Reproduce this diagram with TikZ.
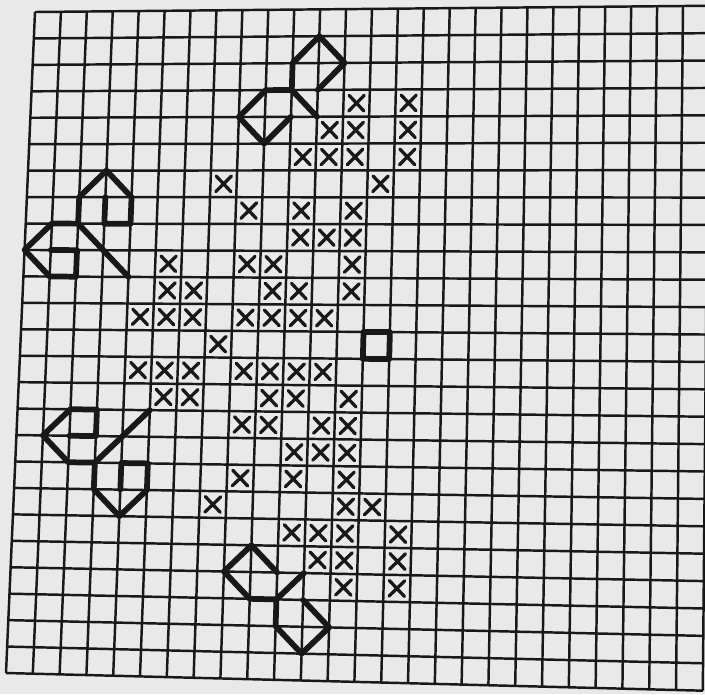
\documentclass[tikz,border=0pt]{standalone}
\usepackage{tikz}
\definecolor{ChartPaper}{HTML}{E9E9E9}
\definecolor{ChartInk}{HTML}{181818}
\newcommand{\gridpt}[2]{({gx(#1,#2)},{gy(#1,#2)})}

\begin{document}
\begin{tikzpicture}[x=0.03cm,y=-0.03cm,
    declare function={gx(\i,\j)=35+25.92*\i-1.16*\j+0.0352*\i*\j;
                      gy(\i,\j)=12-0.24*\i+26.44*\j+0.0368*\i*\j;},
    gridline/.style={ChartInk,line width=2.1pt},
    stitch/.style={ChartInk,line width=2.8pt,line cap=round},
    backst/.style={ChartInk,line width=4.9pt,line cap=round,line join=round}]
  \fill[ChartPaper] (0,0) rectangle (705,694);
  \useasboundingbox (0,0) rectangle (705,694);
  \clip (0,0) rectangle (705,694);
  % grid
  \foreach \col in {0,...,26}
    \draw[gridline] \gridpt{\col}{0} -- \gridpt{\col}{25};
  \foreach \row in {0,...,25}
    \draw[gridline] \gridpt{0}{\row} -- \gridpt{26}{\row};
  % cross stitches
  \foreach \row/\cols in {3/{12,14},4/{11,12,14},5/{10,11,12,14},6/{7,13},
      7/{8,10,12},8/{10,11,12},9/{5,8,9,12},10/{5,6,9,10,12},
      11/{4,5,6,8,9,10,11},12/{7},13/{4,5,6,8,9,10,11},14/{5,6,9,10,12},
      15/{8,9,11,12},16/{10,11,12},17/{8,10,12},18/{7,12,13},
      19/{10,11,12,14},20/{11,12,14},21/{12,14}}
    \foreach \col in \cols
      \draw[stitch] \gridpt{\col+0.21}{\row+0.21} -- \gridpt{\col+0.79}{\row+0.79}
                    \gridpt{\col+0.79}{\row+0.21} -- \gridpt{\col+0.21}{\row+0.79};
  % backstitch motifs
  \draw[backst] \gridpt{11}{3} -- \gridpt{12}{2} -- \gridpt{11}{1} -- \gridpt{10}{2}
    -- \gridpt{10}{3} -- \gridpt{9}{3} -- \gridpt{8}{4} -- \gridpt{9}{5} -- \gridpt{10}{4}
    \gridpt{10}{3} -- \gridpt{11}{4};
  \draw[backst] \gridpt{3}{7} -- \gridpt{3}{8} -- \gridpt{4}{8} -- \gridpt{4}{7}
    -- \gridpt{3}{6} -- \gridpt{2}{7} -- \gridpt{2}{8} -- \gridpt{1}{8} -- \gridpt{0}{9}
    -- \gridpt{1}{10} -- \gridpt{2}{10} -- \gridpt{2}{9} -- \gridpt{1}{9}
    \gridpt{2}{8} -- \gridpt{4}{10};
  \draw[backst] \gridpt{2}{16} -- \gridpt{3}{16} -- \gridpt{3}{15} -- \gridpt{2}{15}
    -- \gridpt{1}{16} -- \gridpt{2}{17} -- \gridpt{3}{17} -- \gridpt{5}{15}
    \gridpt{3}{17} -- \gridpt{3}{18} -- \gridpt{4}{19} -- \gridpt{5}{18}
    -- \gridpt{5}{17} -- \gridpt{4}{17} -- \gridpt{4}{18};
  \draw[backst] \gridpt{11}{21} -- \gridpt{10}{22} -- \gridpt{9}{22} -- \gridpt{8}{21}
    -- \gridpt{9}{20} -- \gridpt{10}{21}
    \gridpt{10}{22} -- \gridpt{10}{23} -- \gridpt{11}{24} -- \gridpt{12}{23} -- \gridpt{11}{22};
  \draw[backst] \gridpt{13}{12} -- \gridpt{14}{12} -- \gridpt{14}{13} -- \gridpt{13}{13} -- cycle;
\end{tikzpicture}
\end{document}
